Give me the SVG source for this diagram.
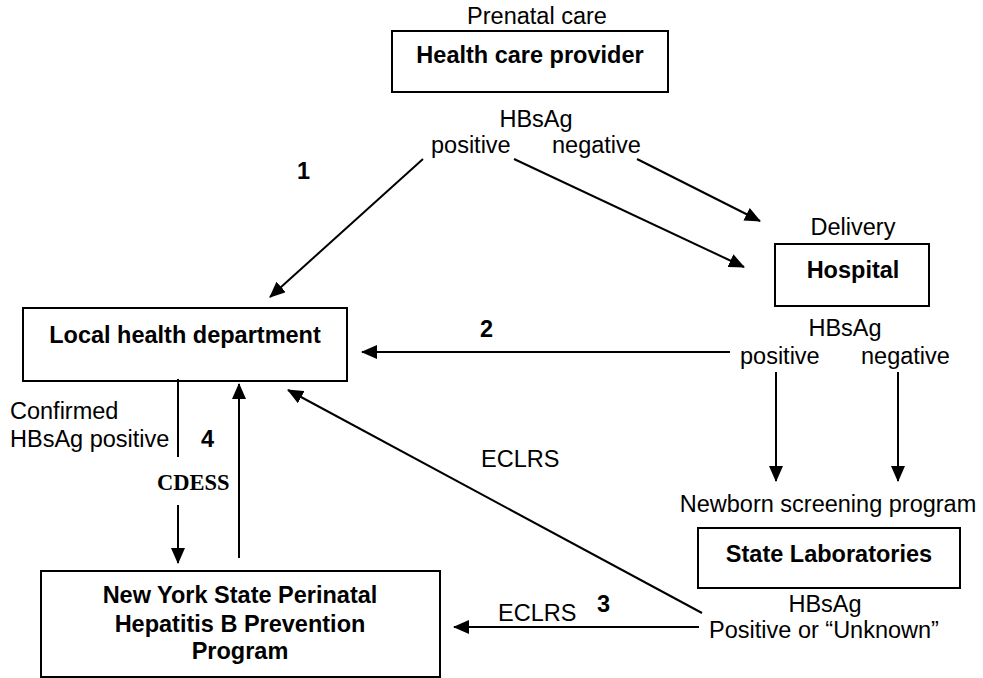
<svg xmlns="http://www.w3.org/2000/svg" width="983" height="678" viewBox="0 0 983 678">
<style>
text { font-family: "Liberation Sans", Arial, sans-serif; font-size: 23.5px; fill: #000; }
.b { font-weight: bold; }
.m { text-anchor: middle; }
.serif { font-family: "Liberation Serif", "Times New Roman", serif; font-weight: bold; font-size: 22.5px; }
.box { fill: #fff; stroke: #000; stroke-width: 2; }
.ln { stroke: #000; stroke-width: 2; fill: none; }
.ar { stroke: #000; stroke-width: 2; fill: none; marker-end: url(#ah); }
</style>
<defs>
<marker id="ah" viewBox="0 0 16 14" refX="15" refY="7" markerWidth="16" markerHeight="14" markerUnits="userSpaceOnUse" orient="auto">
<path d="M0,0 L16,7 L0,14 z" fill="#000"/>
</marker>
</defs>
<rect width="983" height="678" fill="#fff"/>

<g id="health-care-provider">
<text class="m" x="537" y="24">Prenatal care</text>
<rect class="box" x="392" y="31" width="276" height="61"/>
<text class="b m" x="530" y="63">Health care provider</text>
<text class="m" x="536" y="127">HBsAg</text>
<text x="431" y="153">positive</text>
<text x="552" y="153">negative</text>
</g>

<g id="hospital">
<text class="m" x="853" y="235">Delivery</text>
<rect class="box" x="775" y="244" width="154" height="62"/>
<text class="b m" x="853" y="278">Hospital</text>
<text class="m" x="845" y="336">HBsAg</text>
<text x="740" y="364">positive</text>
<text x="861" y="364">negative</text>
</g>

<g id="local-health-department">
<rect class="box" x="23" y="308" width="324" height="73"/>
<text class="b m" x="185" y="343">Local health department</text>
</g>

<g id="state-laboratories">
<text class="m" x="828" y="512">Newborn screening program</text>
<rect class="box" x="698" y="528" width="262" height="60"/>
<text class="b m" x="829" y="562">State Laboratories</text>
<text class="m" x="825" y="612">HBsAg</text>
<text class="m" x="824" y="638">Positive or “Unknown”</text>
</g>

<g id="nys-program">
<rect class="box" x="41" y="571" width="399" height="106"/>
<text class="b m" x="240" y="603">New York State Perinatal</text>
<text class="b m" x="240" y="632">Hepatitis B Prevention</text>
<text class="b m" x="240" y="659">Program</text>
</g>

<g id="connectors">
<line class="ar" x1="423" y1="159" x2="270" y2="297"/>
<line class="ar" x1="514" y1="159" x2="744" y2="267"/>
<line class="ar" x1="637" y1="159" x2="760" y2="221"/>
<line class="ar" x1="730" y1="352" x2="362" y2="352"/>
<line class="ar" x1="776" y1="372" x2="776" y2="481"/>
<line class="ar" x1="898" y1="372" x2="898" y2="481"/>
<line class="ln" x1="178" y1="379" x2="178" y2="457"/>
<line class="ar" x1="178" y1="505" x2="178" y2="563"/>
<line class="ar" x1="239" y1="558" x2="239" y2="384"/>
<line class="ar" x1="702" y1="613" x2="288" y2="390"/>
<line class="ar" x1="699" y1="627" x2="454" y2="627"/>
<text class="b" x="297" y="179">1</text>
<text class="b" x="480" y="337">2</text>
<text class="b" x="597" y="612">3</text>
<text class="b" x="201" y="447">4</text>
<text x="10" y="419">Confirmed</text>
<text x="10" y="447">HBsAg positive</text>
<text class="serif" x="157" y="490">CDESS</text>
<text x="481" y="467">ECLRS</text>
<text x="498" y="621">ECLRS</text>
</g>
</svg>
